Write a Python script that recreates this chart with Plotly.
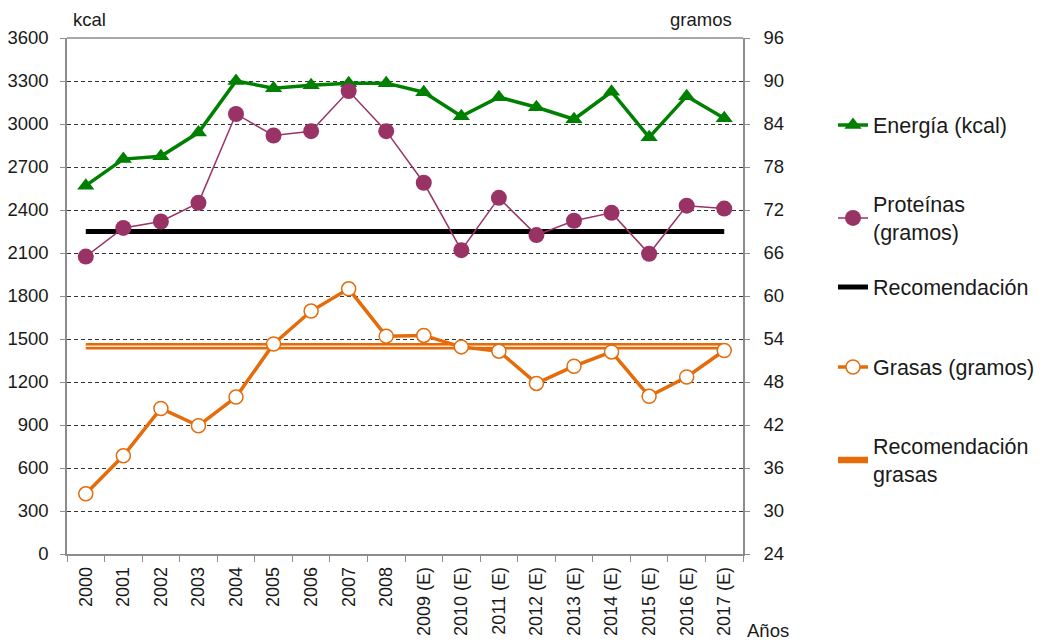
import plotly.graph_objects as go

years = ["2000", "2001", "2002", "2003", "2004", "2005", "2006", "2007", "2008",
         "2009 (E)", "2010 (E)", "2011 (E)", "2012 (E)", "2013 (E)", "2014 (E)",
         "2015 (E)", "2016 (E)", "2017 (E)"]
energia_kcal = [2570, 2755, 2775, 2940, 3300, 3250, 3270, 3285, 3285,
                3222, 3054, 3187, 3117, 3033, 3225, 2907, 3194, 3040]
proteinas_g = [65.5, 69.5, 70.4, 73.0, 85.4, 82.4, 83.0, 88.6, 83.0,
               75.8, 66.4, 73.7, 68.5, 70.5, 71.6, 65.9, 72.6, 72.2]
recomendacion_kcal = [2250] * len(years)
grasas_g = [32.4, 37.7, 44.3, 41.9, 45.9, 53.3, 57.9, 61.0, 54.4,
            54.5, 52.9, 52.3, 47.8, 50.2, 52.2, 46.0, 48.7, 52.4]
recomendacion_grasas_g = [53.0] * len(years)

FONT = "Liberation Sans, Arial, sans-serif"
TXT = "#1a1a1a"
GREEN = "#008000"
PURPLE = "#993366"
ORANGE = "#E46C0A"
AXIS = "#8c8c8c"

OFF = 8  # page body margin seen in the screenshot
W, H = 1042 - OFF, 642 - OFF
PL, PR, PT, PB = 67, 743, 38, 554  # plot area in screenshot pixels

def px_x(px):
    return (px - OFF) / W

def px_y(py):
    return 1 - (py - OFF) / H

fig = go.Figure()

fig.add_trace(go.Scatter(
    x=years, y=energia_kcal, name="Energía (kcal)", mode="lines+markers",
    line=dict(color=GREEN, width=3.5),
    marker=dict(symbol="triangle-up", size=15, color=GREEN),
    yaxis="y", legend="legend"))

fig.add_trace(go.Scatter(
    x=years, y=recomendacion_kcal, name="Recomendación", mode="lines",
    line=dict(color="black", width=5),
    yaxis="y", legend="legend3"))

fig.add_trace(go.Scatter(
    x=years, y=proteinas_g, name="Proteínas<br>(gramos)", mode="lines+markers",
    line=dict(color=PURPLE, width=1.5),
    marker=dict(symbol="circle", size=16, color=PURPLE),
    yaxis="y2", legend="legend2"))

fig.add_trace(go.Scatter(
    x=years, y=recomendacion_grasas_g, name="Recomendación<br>grasas", mode="lines",
    line=dict(color=ORANGE, width=6.5),
    yaxis="y2", legend="legend5"))
fig.add_trace(go.Scatter(
    x=years, y=recomendacion_grasas_g, name="", mode="lines",
    line=dict(color="#FBE3D0", width=1.5), showlegend=False,
    hoverinfo="skip", yaxis="y2"))

fig.add_trace(go.Scatter(
    x=years, y=grasas_g, name="Grasas (gramos)", mode="lines+markers",
    line=dict(color=ORANGE, width=3.5),
    marker=dict(symbol="circle", size=14, color="white",
                line=dict(color=ORANGE, width=1.5)),
    yaxis="y2", legend="legend4"))

def leg(py):
    return dict(x=px_x(833), y=px_y(py), xanchor="left", yanchor="middle",
                xref="paper", yref="paper",
                font=dict(family=FONT, size=21.5, color=TXT),
                bgcolor="rgba(0,0,0,0)", borderwidth=0, itemwidth=30)

fig.update_layout(
    width=W, height=H,
    margin=dict(l=0, r=0, t=0, b=0, autoexpand=False),
    paper_bgcolor="white", plot_bgcolor="white",
    font=dict(family=FONT, size=18, color=TXT),
    xaxis=dict(type="category", categoryorder="array", categoryarray=years,
               range=[-0.5, len(years) - 0.5], domain=[px_x(PL), px_x(PR)],
               automargin=False,
               tickangle=-90, tickson="boundaries", ticks="outside", ticklen=6,
               tickcolor=AXIS, showline=True, linecolor=AXIS, linewidth=1.5,
               showgrid=False, ticklabelstandoff=4,
               tickfont=dict(size=18, color=TXT)),
    yaxis=dict(range=[0, 3600], dtick=300, tick0=0, showline=True,
               domain=[px_y(PB), px_y(PT)], automargin=False,
               linecolor=AXIS, linewidth=1.5, ticks="outside", ticklen=5,
               tickcolor=AXIS, showgrid=True, gridcolor="#333",
               gridwidth=1, griddash="4px,3px", zeroline=False,
               ticklabelstandoff=8,
               tickfont=dict(size=18.5, color=TXT)),
    yaxis2=dict(range=[24, 96], dtick=6, tick0=24, overlaying="y", side="right",
                automargin=False,
                showline=True, linecolor=AXIS, linewidth=1.5, ticks="outside",
                ticklen=5, tickcolor=AXIS, showgrid=False, zeroline=False,
                ticklabelstandoff=10,
                tickfont=dict(size=18.5, color=TXT)),
    legend=leg(125),
    legend2=leg(218),
    legend3=leg(287),
    legend4=leg(367),
    legend5=leg(460),
    shapes=[dict(type="line", xref="paper", yref="paper",
                 x0=px_x(PL), x1=px_x(PR), y0=px_y(PT), y1=px_y(PT),
                 line=dict(color=AXIS, width=1.5))],
    annotations=[
        dict(text="kcal", xref="paper", yref="paper", x=px_x(71), y=px_y(32),
             xanchor="left", yanchor="bottom", showarrow=False,
             font=dict(size=18.5, color=TXT)),
        dict(text="gramos", xref="paper", yref="paper", x=px_x(734), y=px_y(32),
             xanchor="right", yanchor="bottom", showarrow=False,
             font=dict(size=18.5, color=TXT)),
        dict(text="Años", xref="paper", yref="paper", x=px_x(745), y=px_y(630),
             xanchor="left", yanchor="middle", showarrow=False,
             font=dict(size=18.5, color=TXT)),
    ],
)

fig.write_html("out.html")
